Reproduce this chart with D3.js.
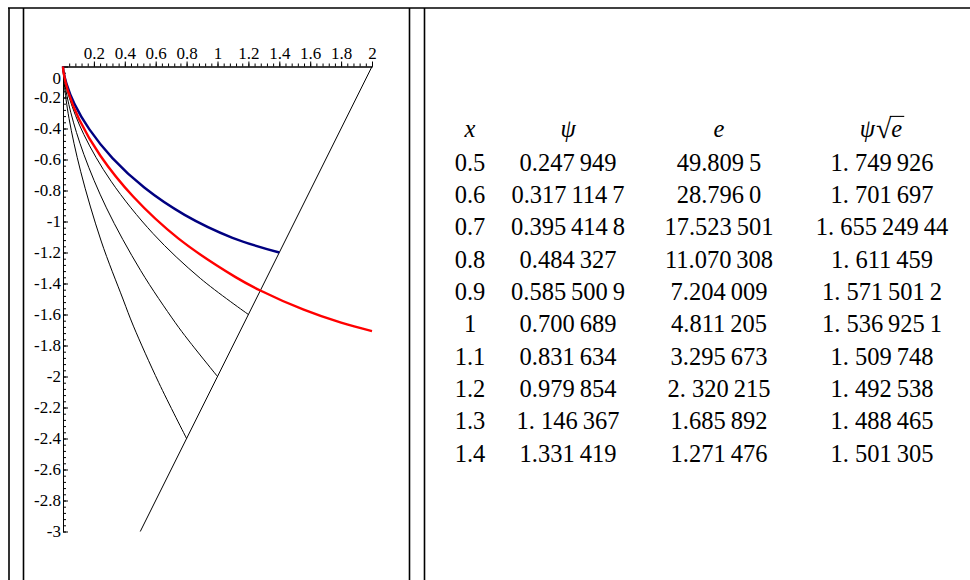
<!DOCTYPE html>
<html>
<head>
<meta charset="utf-8">
<script src="https://cdn.jsdelivr.net/npm/d3@7"></script>
<style>
  body { margin: 0; background: #fff; }
  svg { display: block; }
</style>
</head>
<body>
<svg id="chart" width="970" height="580"></svg>
<script>
// Axis ticks
const xTickValues = [0.2, 0.4, 0.6, 0.8, 1, 1.2, 1.4, 1.6, 1.8, 2];
const yTickValues = [0, -0.2, -0.4, -0.6, -0.8, -1, -1.2, -1.4, -1.6, -1.8, -2, -2.2, -2.4, -2.6, -2.8, -3];

// The straight line y = 2x - 4 carrying the end points
const slantLine = [[2, 0], [0.5, -3]];

// Curves from the origin to the line (x, y)
const curveTo08 = [[0, 0], [0.0074, -0.110], [0.039, -0.335], [0.114, -0.676], [0.247, -1.126], [0.388, -1.50], [0.456, -1.675], [0.62, -2.04], [0.8, -2.4]];
const curveTo10 = [[0, 0], [0.011, -0.108], [0.050, -0.295], [0.135, -0.567], [0.281, -0.912], [0.503, -1.317], [0.725, -1.650], [0.811, -1.765], [1.0, -2.0]];
const curveTo12 = [[0, 0], [0.005, -0.052], [0.041, -0.203], [0.135, -0.439], [0.311, -0.740], [0.583, -1.078], [0.889, -1.367], [1.2, -1.6]];
const blueCurve = [[0, 0], [0.003, -0.028], [0.0225, -0.111], [0.074, -0.241], [0.171, -0.406], [0.320, -0.591], [0.526, -0.781], [0.787, -0.957], [1.097, -1.105], [1.4, -1.2]];
const redCurve = [[0, 0], [0.004, -0.040], [0.032, -0.158], [0.105, -0.342], [0.242, -0.576], [0.454, -0.839], [0.746, -1.109], [1.117, -1.359], [1.277, -1.445], [1.558, -1.569], [1.80, -1.653], [2.0, -1.707]];

// Table columns
const colX = ["0.5", "0.6", "0.7", "0.8", "0.9", "1", "1.1", "1.2", "1.3", "1.4"];
const colPsi = ["0.247\u2009949", "0.317\u2009114\u20097", "0.395\u2009414\u20098", "0.484\u2009327", "0.585\u2009500\u20099",
                "0.700\u2009689", "0.831\u2009634", "0.979\u2009854", "1. 146\u2009367", "1.331\u2009419"];
const colE = ["49.809\u20095", "28.796\u20090", "17.523\u2009501", "11.070\u2009308", "7.204\u2009009",
              "4.811\u2009205", "3.295\u2009673", "2. 320\u2009215", "1.685\u2009892", "1.271\u2009476"];
const colPsiSqrtE = ["1. 749\u2009926", "1. 701\u2009697", "1. 655\u2009249\u200944", "1. 611\u2009459", "1. 571\u2009501\u20092",
                     "1. 536\u2009925\u20091", "1. 509\u2009748", "1. 492\u2009538", "1. 488\u2009465", "1. 501\u2009305"];

const svg = d3.select("#chart");

// Ruled frame around the two cells
const frame = svg.append("g").attr("stroke", "#000").attr("stroke-width", 1.6);
frame.append("line").attr("x1", 8).attr("x2", 970).attr("y1", 8).attr("y2", 8);
[9, 23.5, 409.5, 424.5].forEach(px => {
  frame.append("line").attr("x1", px).attr("x2", px).attr("y1", 8).attr("y2", 580);
});

// Plot scales, equal units on both axes
const x = d3.scaleLinear().domain([0, 2]).range([63, 372]);
const y = d3.scaleLinear().domain([0, -3]).range([66.5, 531.5]);

const tickLabel = v => d3.format("~g")(v).replace("\u2212", "-");
const axisFont = g => g.selectAll("text")
  .attr("font-family", "'Liberation Serif', 'Times New Roman', serif")
  .attr("font-size", 17).attr("fill", "#000");

const minorX = d3.range(1, 51).map(i => +(i * 0.04).toFixed(2));
const minorY = d3.range(1, 76).map(i => +(-i * 0.04).toFixed(2));

// Horizontal axis along y = 0, ticks and labels above
svg.append("g").attr("transform", `translate(0,${y(0)})`)
  .call(d3.axisTop(x).tickValues(minorX).tickSize(3).tickSizeOuter(0).tickFormat(""))
  .call(g => g.selectAll("path,line").attr("stroke", "#000"));
svg.append("g").attr("transform", `translate(0,${y(0)})`)
  .call(d3.axisTop(x).tickValues(xTickValues).tickSize(5).tickSizeOuter(0).tickPadding(3).tickFormat(tickLabel))
  .call(g => g.selectAll("path,line").attr("stroke", "#000"))
  .call(axisFont);

// Vertical axis along x = 0, ticks to the right, labels to the left
svg.append("g").attr("transform", `translate(${x(0)},0)`)
  .call(d3.axisRight(y).tickValues(minorY).tickSize(3).tickSizeOuter(0).tickFormat(""))
  .call(g => g.selectAll("path,line").attr("stroke", "#000"));
svg.append("g").attr("transform", `translate(${x(0)},0)`)
  .call(d3.axisRight(y).tickValues(yTickValues).tickSize(5).tickSizeOuter(0).tickFormat(""))
  .call(g => g.selectAll("path,line").attr("stroke", "#000"));
svg.append("g").attr("transform", `translate(${x(0)},0)`)
  .call(d3.axisLeft(y).tickValues(yTickValues).tickSize(0).tickPadding(2).tickFormat(tickLabel))
  .call(g => g.select(".domain").remove())
  .call(axisFont)
  .call(g => g.selectAll("text").filter(d => d === 0).attr("dy", "1.0em"));

// Curves
const line = d3.line().x(d => x(d[0])).y(d => y(d[1])).curve(d3.curveCatmullRom.alpha(0.5));
const straight = d3.line().x(d => x(d[0])).y(d => y(d[1]));

const curves = svg.append("g").attr("fill", "none");
curves.append("path").attr("d", straight(slantLine)).attr("stroke", "#000").attr("stroke-width", 1);
[curveTo08, curveTo10, curveTo12].forEach(c => {
  curves.append("path").attr("d", line(c)).attr("stroke", "#000").attr("stroke-width", 1);
});
curves.append("path").attr("d", line(blueCurve)).attr("stroke", "#000080").attr("stroke-width", 2.4);
curves.append("path").attr("d", line(redCurve)).attr("stroke", "#ff0000").attr("stroke-width", 2.4);

// Table of values
const tableFont = "'Liberation Serif', 'Times New Roman', serif";
const colCenters = [470, 568, 719, 882];
const rowPos = d3.scalePoint().domain(d3.range(11)).range([130, 453]);

const table = svg.append("g").attr("font-family", tableFont).attr("font-size", 24.5).attr("fill", "#000")
  .attr("text-anchor", "middle");

// Header
const headY = rowPos(0);
table.append("text").attr("x", colCenters[0]).attr("y", headY).attr("dy", "0.3em")
  .attr("font-style", "italic").text("x");
table.append("text").attr("x", colCenters[1]).attr("y", headY).attr("dy", "0.3em")
  .attr("font-style", "italic").text("ψ");
table.append("text").attr("x", colCenters[2]).attr("y", headY).attr("dy", "0.3em")
  .attr("font-style", "italic").text("e");

const head4 = table.append("g");
const hPsi = head4.append("text").attr("text-anchor", "start").attr("y", headY).attr("dy", "0.3em")
  .attr("font-style", "italic").text("ψ");
const hRad = head4.append("text").attr("text-anchor", "start").attr("y", headY).attr("dy", "0.3em")
  .attr("font-size", 28).text("√");
const hE = head4.append("text").attr("text-anchor", "start").attr("y", headY).attr("dy", "0.3em")
  .attr("font-style", "italic").text("e");
const wPsi = hPsi.node().getComputedTextLength();
const wRad = hRad.node().getComputedTextLength();
const wE = hE.node().getComputedTextLength();
const total = wPsi + 1 + wRad + wE + 2;
const startX = colCenters[3] - total / 2;
hPsi.attr("x", startX);
hRad.attr("x", startX + wPsi + 1);
hE.attr("x", startX + wPsi + 1 + wRad);
const radBox = hRad.node().getBBox();
head4.append("line")
  .attr("x1", startX + wPsi + 1 + wRad - 1.5).attr("x2", startX + wPsi + 1 + wRad + wE + 2)
  .attr("y1", radBox.y + 3).attr("y2", radBox.y + 3)
  .attr("stroke", "#000").attr("stroke-width", 1.1);

// Body rows
[colX, colPsi, colE, colPsiSqrtE].forEach((col, ci) => {
  table.selectAll(null).data(col).join("text")
    .attr("x", colCenters[ci])
    .attr("y", (d, i) => rowPos(i + 1))
    .attr("dy", "0.35em")
    .text(d => d);
});
</script>
</body>
</html>
